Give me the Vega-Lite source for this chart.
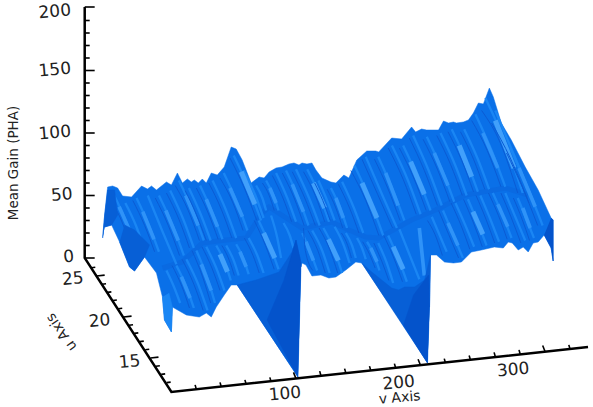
{"$schema":"https://vega.github.io/schema/vega-lite/v6.json","width":593,"height":407,"padding":0,"autosize":{"type":"fit","contains":"padding"},"background":"white","config":{"view":{"stroke":null}},
"encoding":{"x":{"field":"v","type":"quantitative","scale":{"domain":[-137.6,336.8],"nice":false,"zero":false},"axis":null},"y":{"field":"g","type":"quantitative","scale":{"domain":[-119.2,206.4],"nice":false,"zero":false},"axis":null}},
"datasets":{
"silhouette":[{"s":0,"v":-55.2,"g":16},{"s":0,"v":-53.6,"g":34.4},{"s":0,"v":-51.2,"g":56.8},{"s":0,"v":-47.2,"g":57.6},{"s":0,"v":-43.2,"g":56},{"s":0,"v":-39.2,"g":49.6},{"s":0,"v":-32,"g":48.8},{"s":0,"v":-24,"g":57.6},{"s":0,"v":-19.2,"g":55.2},{"s":0,"v":-16,"g":57.6},{"s":0,"v":-12,"g":54.4},{"s":0,"v":-4,"g":60.8},{"s":0,"v":0,"g":58.4},{"s":0,"v":4.8,"g":68},{"s":0,"v":8.8,"g":60},{"s":0,"v":12.8,"g":63.2},{"s":0,"v":16,"g":60.8},{"s":0,"v":18.4,"g":62.4},{"s":0,"v":21.6,"g":60},{"s":0,"v":24.8,"g":63.2},{"s":0,"v":28,"g":60},{"s":0,"v":32,"g":68},{"s":0,"v":36.8,"g":66.4},{"s":0,"v":42.4,"g":72.8},{"s":0,"v":48,"g":88.8},{"s":0,"v":52,"g":87.2},{"s":0,"v":56.8,"g":78.4},{"s":0,"v":64,"g":60},{"s":0,"v":70.4,"g":64.8},{"s":0,"v":74.4,"g":64},{"s":0,"v":78.4,"g":68.8},{"s":0,"v":84,"g":72},{"s":0,"v":88.8,"g":72.8},{"s":0,"v":94.4,"g":75.2},{"s":0,"v":98.4,"g":76},{"s":0,"v":102.4,"g":74.4},{"s":0,"v":104.8,"g":76},{"s":0,"v":108.8,"g":75.2},{"s":0,"v":112.8,"g":76},{"s":0,"v":116,"g":70.4},{"s":0,"v":120.8,"g":64},{"s":0,"v":128,"g":60.8},{"s":0,"v":132,"g":60},{"s":0,"v":138.4,"g":66.4},{"s":0,"v":142.4,"g":64},{"s":0,"v":148.8,"g":78.4},{"s":0,"v":156.8,"g":85.6},{"s":0,"v":164,"g":85.6},{"s":0,"v":166.4,"g":84.8},{"s":0,"v":176.8,"g":96},{"s":0,"v":184.8,"g":95.2},{"s":0,"v":192.8,"g":104.8},{"s":0,"v":196,"g":100.8},{"s":0,"v":200.8,"g":103.2},{"s":0,"v":204.8,"g":102.4},{"s":0,"v":214.4,"g":102.4},{"s":0,"v":218.4,"g":109.6},{"s":0,"v":222.4,"g":108},{"s":0,"v":226.4,"g":108.8},{"s":0,"v":228.8,"g":108},{"s":0,"v":234.4,"g":108.8},{"s":0,"v":238.4,"g":110.4},{"s":0,"v":242.4,"g":116},{"s":0,"v":246.4,"g":124},{"s":0,"v":250.4,"g":123.2},{"s":0,"v":255.2,"g":136},{"s":0,"v":258.4,"g":128.8},{"s":0,"v":264.8,"g":108},{"s":0,"v":272.8,"g":94.4},{"s":0,"v":284,"g":72.8},{"s":0,"v":294.4,"g":54.4},{"s":0,"v":304.8,"g":32},{"s":0,"v":306.4,"g":30.4},{"s":0,"v":306.4,"g":-2.4},{"s":0,"v":304.8,"g":8},{"s":0,"v":299.2,"g":18.4},{"s":0,"v":294.4,"g":12.8},{"s":0,"v":290.4,"g":12},{"s":0,"v":286.4,"g":4.8},{"s":0,"v":282.4,"g":8.8},{"s":0,"v":278.4,"g":6.4},{"s":0,"v":273.6,"g":12},{"s":0,"v":270.4,"g":12.8},{"s":0,"v":266.4,"g":8},{"s":0,"v":259.2,"g":8.8},{"s":0,"v":248.8,"g":6.4},{"s":0,"v":240.8,"g":4.8},{"s":0,"v":232.8,"g":-3.2},{"s":0,"v":226.4,"g":-4},{"s":0,"v":219.2,"g":-3.2},{"s":0,"v":212.8,"g":2.4},{"s":0,"v":208,"g":2.4},{"s":0,"v":207.2,"g":-39.2},{"s":0,"v":205.6,"g":-84},{"s":0,"v":182.4,"g":-48},{"s":0,"v":152.8,"g":-4},{"s":0,"v":148,"g":-3.2},{"s":0,"v":140,"g":-9.6},{"s":0,"v":132,"g":-15.2},{"s":0,"v":126.4,"g":-16},{"s":0,"v":120,"g":-13.6},{"s":0,"v":112.8,"g":-14.4},{"s":0,"v":108,"g":-5.6},{"s":0,"v":104.8,"g":-4},{"s":0,"v":104,"g":-7.2},{"s":0,"v":101.6,"g":-95.2},{"s":0,"v":52.8,"g":-21.6},{"s":0,"v":48,"g":-21.6},{"s":0,"v":42.4,"g":-29.6},{"s":0,"v":36,"g":-39.2},{"s":0,"v":32,"g":-47.2},{"s":0,"v":28,"g":-44},{"s":0,"v":22.4,"g":-47.2},{"s":0,"v":12,"g":-45.6},{"s":0,"v":0.8,"g":-39.2},{"s":0,"v":0,"g":-59.2},{"s":0,"v":-5.6,"g":-49.6},{"s":0,"v":-7.2,"g":-31.2},{"s":0,"v":-12,"g":-12},{"s":0,"v":-21.6,"g":0.8},{"s":0,"v":-29.6,"g":-10.4},{"s":0,"v":-33.6,"g":-7.2},{"s":0,"v":-41.6,"g":12.8},{"s":0,"v":-48,"g":26.4},{"s":0,"v":-53.6,"g":24.8}],
"patches":[
{"s":1,"t":"dark","v":101.6,"g":-95.2},{"s":1,"t":"dark","v":52.8,"g":-21.6},{"s":1,"t":"dark","v":68,"g":-17.6},{"s":1,"t":"dark","v":86.4,"g":-11.2},{"s":1,"t":"dark","v":96.8,"g":4.8},{"s":1,"t":"dark","v":100,"g":14.4},{"s":1,"t":"dark","v":104,"g":-4},{"s":1,"t":"dark","v":104,"g":-7.2},
{"s":2,"t":"deep","v":101.6,"g":-95.2},{"s":2,"t":"deep","v":76.8,"g":-49.6},{"s":2,"t":"deep","v":90.4,"g":-17.6},{"s":2,"t":"deep","v":100,"g":14.4},{"s":2,"t":"deep","v":104,"g":-4},{"s":2,"t":"deep","v":104,"g":-7.2},
{"s":3,"t":"dark","v":205.6,"g":-84},{"s":3,"t":"dark","v":152.8,"g":-4},{"s":3,"t":"dark","v":160.8,"g":-11.2},{"s":3,"t":"dark","v":176.8,"g":-24},{"s":3,"t":"dark","v":182.4,"g":-25.6},{"s":3,"t":"dark","v":187.2,"g":-23.2},{"s":3,"t":"dark","v":195.2,"g":-23.2},{"s":3,"t":"dark","v":203.2,"g":-17.6},{"s":3,"t":"dark","v":208,"g":2.4},{"s":3,"t":"dark","v":207.2,"g":-39.2},
{"s":4,"t":"deep","v":205.6,"g":-84},{"s":4,"t":"deep","v":186.4,"g":-53.6},{"s":4,"t":"deep","v":194.4,"g":-29.6},{"s":4,"t":"deep","v":206.4,"g":-13.6},{"s":4,"t":"deep","v":207.2,"g":-39.2},
{"s":5,"t":"deep","v":304.8,"g":32},{"s":5,"t":"deep","v":306.4,"g":30.4},{"s":5,"t":"deep","v":306.4,"g":-2.4},{"s":5,"t":"deep","v":304.8,"g":8},{"s":5,"t":"deep","v":299.2,"g":18.4},
{"s":6,"t":"dark","v":-41.6,"g":12.8},{"s":6,"t":"dark","v":-33.6,"g":-7.2},{"s":6,"t":"dark","v":-29.6,"g":-10.4},{"s":6,"t":"dark","v":-21.6,"g":0.8},{"s":6,"t":"dark","v":-17.6,"g":10.4},{"s":6,"t":"dark","v":-29.6,"g":22.4},{"s":6,"t":"dark","v":-37.6,"g":26.4},
{"s":7,"t":"dark","v":-55.2,"g":16},{"s":7,"t":"dark","v":-53.6,"g":34.4},{"s":7,"t":"dark","v":-51.2,"g":54.4},{"s":7,"t":"dark","v":-45.6,"g":54.4},{"s":7,"t":"dark","v":-43.2,"g":34.4},{"s":7,"t":"dark","v":-48,"g":26.4},{"s":7,"t":"dark","v":-53.6,"g":24.8},
{"s":8,"t":"l1","v":-7.2,"g":-31.2},{"s":8,"t":"l1","v":-5.6,"g":-49.6},{"s":8,"t":"l1","v":0,"g":-59.2},{"s":8,"t":"l1","v":0.8,"g":-39.2},{"s":8,"t":"l1","v":-2,"g":-28}],
"fold":[{"v":-7.2,"g":-8},{"v":8.8,"g":-3.2},{"v":24.8,"g":12},{"v":44,"g":14.4},{"v":60,"g":16},{"v":72.8,"g":36},{"v":78.4,"g":40.8},{"v":104.8,"g":24},{"v":128.8,"g":28.8},{"v":142.4,"g":22.4},{"v":156,"g":16.8},{"v":166.4,"g":16},{"v":192.8,"g":30.4},{"v":212,"g":38.4},{"v":236,"g":50.4},{"v":268,"g":56},{"v":286.4,"g":50.4}],
"streaks":[
{"s":1,"t":"l1","v":-46,"g":50},{"s":1,"t":"l1","v":-37.5,"g":32},{"s":1,"t":"l1","v":-31,"g":15},{"s":2,"t":"l1","v":-37,"g":44},{"s":2,"t":"l1","v":-28.5,"g":26},{"s":2,"t":"l1","v":-22,"g":8},{"s":3,"t":"l1","v":-28,"g":48},{"s":3,"t":"l1","v":-18,"g":26},{"s":3,"t":"l1","v":-10,"g":5},{"s":4,"t":"l1","v":-19,"g":50},{"s":4,"t":"l1","v":-7.5,"g":22},{"s":4,"t":"l1","v":4,"g":-5},{"s":5,"t":"l1","v":-10,"g":50},{"s":5,"t":"l1","v":1,"g":26},{"s":5,"t":"l1","v":10,"g":2},{"s":6,"t":"l1","v":-1,"g":54},{"s":6,"t":"l1","v":9.5,"g":31},{"s":6,"t":"l1","v":18,"g":8},{"s":7,"t":"l1","v":6,"g":62},{"s":7,"t":"l1","v":17,"g":38},{"s":7,"t":"l1","v":26,"g":14},{"s":8,"t":"l1","v":14,"g":56},{"s":8,"t":"l1","v":23.5,"g":35},{"s":8,"t":"l1","v":31.5,"g":14},{"s":9,"t":"l1","v":23,"g":58},{"s":9,"t":"l1","v":33,"g":36},{"s":9,"t":"l1","v":41,"g":15},{"s":10,"t":"l1","v":33,"g":62},{"s":10,"t":"l1","v":43.5,"g":39},{"s":10,"t":"l1","v":52,"g":16},{"s":11,"t":"l1","v":42,"g":68},{"s":11,"t":"l1","v":52.5,"g":45},{"s":11,"t":"l1","v":61,"g":22},{"s":12,"t":"l1","v":50,"g":82},{"s":12,"t":"l1","v":62,"g":56},{"s":12,"t":"l1","v":72,"g":30},{"s":13,"t":"l1","v":58,"g":70},{"s":13,"t":"l1","v":67,"g":51},{"s":13,"t":"l1","v":74,"g":32},{"s":14,"t":"l1","v":68,"g":58},{"s":14,"t":"l1","v":73,"g":48},{"s":14,"t":"l1","v":76,"g":38},{"s":15,"t":"l1","v":76,"g":62},{"s":15,"t":"l1","v":82,"g":50},{"s":15,"t":"l1","v":86,"g":38},{"s":16,"t":"l1","v":84,"g":68},{"s":16,"t":"l1","v":93,"g":48},{"s":16,"t":"l1","v":100,"g":29},{"s":17,"t":"l1","v":92,"g":70},{"s":17,"t":"l1","v":102,"g":48},{"s":17,"t":"l1","v":110,"g":26},{"s":18,"t":"l1","v":100,"g":71},{"s":18,"t":"l1","v":110.5,"g":48},{"s":18,"t":"l1","v":119,"g":26},{"s":19,"t":"l1","v":109,"g":71},{"s":19,"t":"l1","v":119,"g":50},{"s":19,"t":"l1","v":126.5,"g":29},{"s":20,"t":"l1","v":118,"g":62},{"s":20,"t":"l1","v":125,"g":46},{"s":20,"t":"l1","v":131,"g":30},{"s":21,"t":"l1","v":128,"g":56},{"s":21,"t":"l1","v":135.5,"g":40},{"s":21,"t":"l1","v":141,"g":24},{"s":22,"t":"l1","v":137,"g":61},{"s":22,"t":"l1","v":146.5,"g":40},{"s":22,"t":"l1","v":154,"g":20},{"s":23,"t":"l1","v":147,"g":74},{"s":23,"t":"l1","v":159.5,"g":46},{"s":23,"t":"l1","v":170,"g":18},{"s":24,"t":"l1","v":156,"g":81},{"s":24,"t":"l1","v":169,"g":51},{"s":24,"t":"l1","v":181,"g":24},{"s":25,"t":"l1","v":166,"g":81},{"s":25,"t":"l1","v":177.5,"g":55},{"s":25,"t":"l1","v":187,"g":30},{"s":26,"t":"l1","v":177,"g":90},{"s":26,"t":"l1","v":189.5,"g":63},{"s":26,"t":"l1","v":200,"g":35},{"s":27,"t":"l1","v":186,"g":90},{"s":27,"t":"l1","v":198,"g":64},{"s":27,"t":"l1","v":208,"g":38},{"s":28,"t":"l1","v":194,"g":98},{"s":28,"t":"l1","v":206.5,"g":70},{"s":28,"t":"l1","v":217,"g":42},{"s":29,"t":"l1","v":205,"g":97},{"s":29,"t":"l1","v":217,"g":71},{"s":29,"t":"l1","v":227,"g":45},{"s":30,"t":"l1","v":216,"g":100},{"s":30,"t":"l1","v":227.5,"g":75},{"s":30,"t":"l1","v":237,"g":50},{"s":31,"t":"l1","v":225,"g":103},{"s":31,"t":"l1","v":236.5,"g":78},{"s":31,"t":"l1","v":246,"g":53},{"s":32,"t":"l1","v":235,"g":103},{"s":32,"t":"l1","v":246,"g":79},{"s":32,"t":"l1","v":255,"g":55},{"s":33,"t":"l1","v":244,"g":115},{"s":33,"t":"l1","v":257,"g":86},{"s":33,"t":"l1","v":268,"g":57},{"s":34,"t":"l1","v":252,"g":128},{"s":34,"t":"l1","v":268,"g":92},{"s":34,"t":"l1","v":282,"g":52},{"s":35,"t":"l1","v":260,"g":118},{"s":35,"t":"l1","v":276,"g":80},{"s":35,"t":"l1","v":291,"g":44},{"s":36,"t":"l1","v":272,"g":88},{"s":36,"t":"l1","v":286,"g":56},{"s":36,"t":"l1","v":298,"g":26},
{"s":41,"t":"l1","v":-4,"g":-10},{"s":41,"t":"l1","v":2,"g":-23},{"s":41,"t":"l1","v":7,"g":-36},{"s":42,"t":"l1","v":4,"g":-6},{"s":42,"t":"l1","v":12,"g":-23},{"s":42,"t":"l1","v":18,"g":-40},{"s":43,"t":"l1","v":12,"g":-1},{"s":43,"t":"l1","v":21.5,"g":-21},{"s":43,"t":"l1","v":29,"g":-42},{"s":44,"t":"l1","v":20,"g":6},{"s":44,"t":"l1","v":28.5,"g":-15},{"s":44,"t":"l1","v":35,"g":-36},{"s":45,"t":"l1","v":28,"g":9},{"s":45,"t":"l1","v":36,"g":-8},{"s":45,"t":"l1","v":42.6,"g":-26},{"s":46,"t":"l1","v":36,"g":10},{"s":46,"t":"l1","v":43,"g":-4},{"s":46,"t":"l1","v":47.7,"g":-18},{"s":47,"t":"l1","v":44,"g":10},{"s":47,"t":"l1","v":50,"g":-2},{"s":47,"t":"l1","v":54,"g":-14},{"s":48,"t":"l1","v":52,"g":11},{"s":48,"t":"l1","v":58,"g":-1},{"s":48,"t":"l1","v":62,"g":-13},{"s":49,"t":"l1","v":62,"g":16},{"s":49,"t":"l1","v":69,"g":2},{"s":49,"t":"l1","v":74,"g":-12},{"s":50,"t":"l1","v":70,"g":30},{"s":50,"t":"l1","v":79,"g":10},{"s":50,"t":"l1","v":86,"g":-9},{"s":51,"t":"l1","v":80,"g":34},{"s":51,"t":"l1","v":85,"g":16},{"s":51,"t":"l1","v":88,"g":0},{"s":52,"t":"l1","v":90,"g":28},{"s":52,"t":"l1","v":95,"g":18},{"s":52,"t":"l1","v":98,"g":8},{"s":53,"t":"l1","v":105,"g":20},{"s":53,"t":"l1","v":111,"g":6},{"s":53,"t":"l1","v":117,"g":-10},{"s":54,"t":"l1","v":113,"g":22},{"s":54,"t":"l1","v":121,"g":6},{"s":54,"t":"l1","v":127,"g":-12},{"s":55,"t":"l1","v":122,"g":24},{"s":55,"t":"l1","v":130.5,"g":7},{"s":55,"t":"l1","v":137,"g":-12},{"s":56,"t":"l1","v":131,"g":25},{"s":56,"t":"l1","v":138,"g":11},{"s":56,"t":"l1","v":143,"g":-4},{"s":57,"t":"l1","v":140,"g":20},{"s":57,"t":"l1","v":145,"g":10},{"s":57,"t":"l1","v":148,"g":0},{"s":58,"t":"l1","v":149,"g":16},{"s":58,"t":"l1","v":153,"g":8},{"s":58,"t":"l1","v":156,"g":-1},{"s":59,"t":"l1","v":157,"g":13},{"s":59,"t":"l1","v":162.5,"g":3},{"s":59,"t":"l1","v":167,"g":-10},{"s":60,"t":"l1","v":166,"g":12},{"s":60,"t":"l1","v":172.5,"g":-3},{"s":60,"t":"l1","v":178,"g":-20},{"s":61,"t":"l1","v":174,"g":18},{"s":61,"t":"l1","v":182,"g":0},{"s":61,"t":"l1","v":189,"g":-19},{"s":62,"t":"l1","v":183,"g":23},{"s":62,"t":"l1","v":191,"g":3},{"s":62,"t":"l1","v":199,"g":-17},{"s":63,"t":"l1","v":209,"g":33},{"s":63,"t":"l1","v":215,"g":19},{"s":63,"t":"l1","v":221,"g":5},{"s":64,"t":"l1","v":218,"g":38},{"s":64,"t":"l1","v":226,"g":19},{"s":64,"t":"l1","v":234,"g":0},{"s":65,"t":"l1","v":228,"g":44},{"s":65,"t":"l1","v":236,"g":26},{"s":65,"t":"l1","v":243,"g":9},{"s":66,"t":"l1","v":238,"g":47},{"s":66,"t":"l1","v":246,"g":28},{"s":66,"t":"l1","v":253,"g":10},{"s":67,"t":"l1","v":248,"g":50},{"s":67,"t":"l1","v":256,"g":31},{"s":67,"t":"l1","v":263,"g":13},{"s":68,"t":"l1","v":258,"g":52},{"s":68,"t":"l1","v":266,"g":34},{"s":68,"t":"l1","v":273,"g":16},{"s":69,"t":"l1","v":268,"g":52},{"s":69,"t":"l1","v":276,"g":33},{"s":69,"t":"l1","v":284,"g":14},{"s":70,"t":"l1","v":278,"g":48},{"s":70,"t":"l1","v":285,"g":31},{"s":70,"t":"l1","v":291,"g":16},
{"s":101,"t":"l2","v":-42,"g":41},{"s":101,"t":"l2","v":-34,"g":23},{"s":103,"t":"l2","v":-23,"g":37},{"s":103,"t":"l2","v":-14,"g":15},{"s":105,"t":"l2","v":-4.5,"g":38},{"s":105,"t":"l2","v":5.5,"g":14},{"s":107,"t":"l2","v":11.5,"g":50},{"s":107,"t":"l2","v":21.5,"g":26},{"s":109,"t":"l2","v":28,"g":47},{"s":109,"t":"l2","v":37,"g":25},{"s":111,"t":"l2","v":47,"g":56},{"s":111,"t":"l2","v":57,"g":33},{"s":112,"t":"l3","v":56,"g":69},{"s":112,"t":"l3","v":67,"g":43},{"s":115,"t":"l2","v":79,"g":56},{"s":115,"t":"l2","v":84,"g":44},{"s":117,"t":"l2","v":97,"g":59},{"s":117,"t":"l2","v":106,"g":37},{"s":119,"t":"l3","v":114,"g":60},{"s":119,"t":"l3","v":123,"g":40},{"s":121,"t":"l2","v":132,"g":48},{"s":121,"t":"l2","v":138,"g":32},{"s":123,"t":"l3","v":153,"g":60},{"s":123,"t":"l3","v":165,"g":32},{"s":125,"t":"l2","v":172,"g":68},{"s":125,"t":"l2","v":182,"g":42},{"s":127,"t":"l3","v":192,"g":77},{"s":127,"t":"l3","v":203,"g":51},{"s":129,"t":"l2","v":211,"g":84},{"s":129,"t":"l2","v":222,"g":58},{"s":131,"t":"l3","v":231,"g":90},{"s":131,"t":"l3","v":241,"g":65},{"s":133,"t":"l2","v":250,"g":100},{"s":133,"t":"l2","v":262,"g":72},{"s":134,"t":"l3","v":260,"g":110},{"s":134,"t":"l3","v":275,"g":72},{"s":136,"t":"l2","v":279,"g":72},{"s":136,"t":"l2","v":292,"g":41},
{"s":142,"t":"l2","v":8,"g":-15},{"s":142,"t":"l2","v":15,"g":-32},{"s":144,"t":"l2","v":24,"g":-5},{"s":144,"t":"l2","v":32,"g":-26},{"s":146,"t":"l3","v":39,"g":3},{"s":146,"t":"l3","v":45,"g":-11},{"s":148,"t":"l2","v":55,"g":5},{"s":148,"t":"l2","v":60,"g":-7},{"s":150,"t":"l3","v":74,"g":20},{"s":150,"t":"l3","v":83,"g":0},{"s":153,"t":"l2","v":108,"g":13},{"s":153,"t":"l2","v":114,"g":-2},{"s":155,"t":"l3","v":126,"g":15},{"s":155,"t":"l3","v":134,"g":-2},{"s":159,"t":"l2","v":160,"g":8},{"s":159,"t":"l2","v":165,"g":-3},{"s":161,"t":"l3","v":178,"g":9},{"s":161,"t":"l3","v":186,"g":-9},{"s":162,"t":"l2","v":199,"g":24},{"s":162,"t":"l2","v":201,"g":5},{"s":162,"t":"l2","v":203,"g":-14},{"s":164,"t":"l2","v":222,"g":28},{"s":164,"t":"l2","v":230,"g":10},{"s":166,"t":"l3","v":242,"g":37},{"s":166,"t":"l3","v":250,"g":19},{"s":168,"t":"l2","v":262,"g":43},{"s":168,"t":"l2","v":270,"g":25},{"s":170,"t":"l2","v":282,"g":40},{"s":170,"t":"l2","v":288,"g":24},
{"s":201,"t":"hair","v":-49,"g":46},{"s":201,"t":"hair","v":-41,"g":32},{"s":201,"t":"hair","v":-34.5,"g":15},{"s":203,"t":"hair","v":-31,"g":46},{"s":203,"t":"hair","v":-21.5,"g":26},{"s":203,"t":"hair","v":-13.5,"g":5},{"s":205,"t":"hair","v":-13,"g":48},{"s":205,"t":"hair","v":-2.5,"g":26},{"s":205,"t":"hair","v":6.5,"g":2},{"s":206,"t":"hair","v":-4,"g":52},{"s":206,"t":"hair","v":6,"g":31},{"s":206,"t":"hair","v":14.5,"g":8},{"s":207,"t":"hair","v":3,"g":58},{"s":207,"t":"hair","v":13.5,"g":38},{"s":207,"t":"hair","v":22.5,"g":14},{"s":208,"t":"hair","v":11,"g":54},{"s":208,"t":"hair","v":20,"g":35},{"s":208,"t":"hair","v":28,"g":14},{"s":209,"t":"hair","v":20,"g":56},{"s":209,"t":"hair","v":29.5,"g":36},{"s":209,"t":"hair","v":37.5,"g":15},{"s":210,"t":"hair","v":30,"g":60},{"s":210,"t":"hair","v":40,"g":39},{"s":210,"t":"hair","v":48.5,"g":16},{"s":211,"t":"hair","v":39,"g":64},{"s":211,"t":"hair","v":49,"g":45},{"s":211,"t":"hair","v":57.5,"g":22},{"s":212,"t":"hair","v":47,"g":80},{"s":212,"t":"hair","v":58.5,"g":56},{"s":212,"t":"hair","v":68.5,"g":30},{"s":215,"t":"hair","v":73,"g":60},{"s":215,"t":"hair","v":78.5,"g":50},{"s":215,"t":"hair","v":82.5,"g":38},{"s":216,"t":"hair","v":81,"g":66},{"s":216,"t":"hair","v":89.5,"g":48},{"s":216,"t":"hair","v":96.5,"g":29},{"s":217,"t":"hair","v":89,"g":68},{"s":217,"t":"hair","v":98.5,"g":48},{"s":217,"t":"hair","v":106.5,"g":26},{"s":218,"t":"hair","v":97,"g":69},{"s":218,"t":"hair","v":107,"g":48},{"s":218,"t":"hair","v":115.5,"g":26},{"s":219,"t":"hair","v":106,"g":69},{"s":219,"t":"hair","v":115.5,"g":50},{"s":219,"t":"hair","v":123,"g":29},{"s":220,"t":"hair","v":115,"g":60},{"s":220,"t":"hair","v":121.5,"g":46},{"s":220,"t":"hair","v":127.5,"g":30},{"s":221,"t":"hair","v":125,"g":55},{"s":221,"t":"hair","v":132,"g":40},{"s":221,"t":"hair","v":137.5,"g":24},{"s":222,"t":"hair","v":134,"g":59},{"s":222,"t":"hair","v":143,"g":40},{"s":222,"t":"hair","v":150.5,"g":20},{"s":223,"t":"hair","v":144,"g":70},{"s":223,"t":"hair","v":156,"g":46},{"s":223,"t":"hair","v":166.5,"g":18},{"s":224,"t":"hair","v":153,"g":79},{"s":224,"t":"hair","v":165.5,"g":51},{"s":224,"t":"hair","v":177.5,"g":24},{"s":225,"t":"hair","v":163,"g":79},{"s":225,"t":"hair","v":174,"g":55},{"s":225,"t":"hair","v":183.5,"g":30},{"s":226,"t":"hair","v":174,"g":88},{"s":226,"t":"hair","v":186,"g":63},{"s":226,"t":"hair","v":196.5,"g":35},{"s":227,"t":"hair","v":183,"g":88},{"s":227,"t":"hair","v":194.5,"g":64},{"s":227,"t":"hair","v":204.5,"g":38},{"s":228,"t":"hair","v":191,"g":96},{"s":228,"t":"hair","v":203,"g":70},{"s":228,"t":"hair","v":213.5,"g":42},{"s":229,"t":"hair","v":202,"g":95},{"s":229,"t":"hair","v":213.5,"g":71},{"s":229,"t":"hair","v":223.5,"g":45},{"s":230,"t":"hair","v":213,"g":98},{"s":230,"t":"hair","v":224,"g":75},{"s":230,"t":"hair","v":233.5,"g":50},{"s":231,"t":"hair","v":222,"g":101},{"s":231,"t":"hair","v":233,"g":78},{"s":231,"t":"hair","v":242.5,"g":53},{"s":232,"t":"hair","v":232,"g":101},{"s":232,"t":"hair","v":242.5,"g":79},{"s":232,"t":"hair","v":251.5,"g":55},{"s":233,"t":"hair","v":241,"g":110},{"s":233,"t":"hair","v":253.5,"g":86},{"s":233,"t":"hair","v":264.5,"g":57},{"s":234,"t":"hair","v":249,"g":118},{"s":234,"t":"hair","v":264,"g":92},{"s":234,"t":"hair","v":278,"g":52},{"s":235,"t":"hair","v":257,"g":108},{"s":235,"t":"hair","v":272,"g":80},{"s":235,"t":"hair","v":287,"g":44},{"s":236,"t":"hair","v":269,"g":84},{"s":236,"t":"hair","v":282,"g":56},{"s":236,"t":"hair","v":294,"g":26},
{"s":242,"t":"hair","v":0.5,"g":-6},{"s":242,"t":"hair","v":8.5,"g":-23},{"s":242,"t":"hair","v":14.5,"g":-40},{"s":243,"t":"hair","v":8.5,"g":-1},{"s":243,"t":"hair","v":18,"g":-21},{"s":243,"t":"hair","v":25.5,"g":-42},{"s":244,"t":"hair","v":16.5,"g":6},{"s":244,"t":"hair","v":25,"g":-15},{"s":244,"t":"hair","v":31.5,"g":-36},{"s":245,"t":"hair","v":24.5,"g":9},{"s":245,"t":"hair","v":32.5,"g":-8},{"s":245,"t":"hair","v":39,"g":-26},{"s":247,"t":"hair","v":40.5,"g":10},{"s":247,"t":"hair","v":46.5,"g":-2},{"s":247,"t":"hair","v":50.5,"g":-14},{"s":249,"t":"hair","v":58.5,"g":16},{"s":249,"t":"hair","v":65.5,"g":2},{"s":249,"t":"hair","v":70.5,"g":-12},{"s":250,"t":"hair","v":66.5,"g":30},{"s":250,"t":"hair","v":75.5,"g":10},{"s":250,"t":"hair","v":82.5,"g":-9},{"s":253,"t":"hair","v":106,"g":24},{"s":253,"t":"hair","v":107.5,"g":6},{"s":253,"t":"hair","v":113.5,"g":-10},{"s":254,"t":"hair","v":109.5,"g":22},{"s":254,"t":"hair","v":117.5,"g":6},{"s":254,"t":"hair","v":123.5,"g":-12},{"s":255,"t":"hair","v":118.5,"g":24},{"s":255,"t":"hair","v":127,"g":7},{"s":255,"t":"hair","v":133.5,"g":-12},{"s":257,"t":"hair","v":136.5,"g":20},{"s":257,"t":"hair","v":141.5,"g":10},{"s":257,"t":"hair","v":144.5,"g":0},{"s":259,"t":"hair","v":153.5,"g":13},{"s":259,"t":"hair","v":159,"g":3},{"s":259,"t":"hair","v":163.5,"g":-8},{"s":260,"t":"hair","v":162.5,"g":12},{"s":260,"t":"hair","v":169,"g":-3},{"s":260,"t":"hair","v":174.5,"g":-18},{"s":261,"t":"hair","v":170.5,"g":18},{"s":261,"t":"hair","v":178.5,"g":0},{"s":261,"t":"hair","v":185.5,"g":-19},{"s":263,"t":"hair","v":205.5,"g":30},{"s":263,"t":"hair","v":211.5,"g":19},{"s":263,"t":"hair","v":217.5,"g":2},{"s":264,"t":"hair","v":214.5,"g":38},{"s":264,"t":"hair","v":222.5,"g":19},{"s":264,"t":"hair","v":230.5,"g":0},{"s":265,"t":"hair","v":224.5,"g":44},{"s":265,"t":"hair","v":232.5,"g":26},{"s":265,"t":"hair","v":239.5,"g":7},{"s":266,"t":"hair","v":234.5,"g":47},{"s":266,"t":"hair","v":242.5,"g":28},{"s":266,"t":"hair","v":249.5,"g":9},{"s":267,"t":"hair","v":244.5,"g":50},{"s":267,"t":"hair","v":252.5,"g":31},{"s":267,"t":"hair","v":259.5,"g":12},{"s":268,"t":"hair","v":254.5,"g":52},{"s":268,"t":"hair","v":262.5,"g":34},{"s":268,"t":"hair","v":269.5,"g":15},{"s":269,"t":"hair","v":264.5,"g":52},{"s":269,"t":"hair","v":272.5,"g":33},{"s":269,"t":"hair","v":280.5,"g":12},{"s":270,"t":"hair","v":274.5,"g":48},{"s":270,"t":"hair","v":281.5,"g":31},{"s":270,"t":"hair","v":287.5,"g":14}],
"axisline":[{"v":-69.6,"g":200.8},{"v":-69.6,"g":0},{"v":0,"g":-107.2},{"v":334.4,"g":-71.2}],
"ticks":[
{"s":0,"v":-69.6,"g":0},{"s":0,"v":-61.6,"g":0},{"s":1,"v":-69.6,"g":10},{"s":1,"v":-65.6,"g":10},{"s":2,"v":-69.6,"g":20},{"s":2,"v":-65.6,"g":20},{"s":3,"v":-69.6,"g":30},{"s":3,"v":-65.6,"g":30},{"s":4,"v":-69.6,"g":40},{"s":4,"v":-65.6,"g":40},{"s":5,"v":-69.6,"g":50},{"s":5,"v":-61.6,"g":50},{"s":6,"v":-69.6,"g":60},{"s":6,"v":-65.6,"g":60},{"s":7,"v":-69.6,"g":70},{"s":7,"v":-65.6,"g":70},{"s":8,"v":-69.6,"g":80},{"s":8,"v":-65.6,"g":80},{"s":9,"v":-69.6,"g":90},{"s":9,"v":-65.6,"g":90},{"s":10,"v":-69.6,"g":100},{"s":10,"v":-61.6,"g":100},{"s":11,"v":-69.6,"g":110},{"s":11,"v":-65.6,"g":110},{"s":12,"v":-69.6,"g":120},{"s":12,"v":-65.6,"g":120},{"s":13,"v":-69.6,"g":130},{"s":13,"v":-65.6,"g":130},{"s":14,"v":-69.6,"g":140},{"s":14,"v":-65.6,"g":140},{"s":15,"v":-69.6,"g":150},{"s":15,"v":-61.6,"g":150},{"s":16,"v":-69.6,"g":160},{"s":16,"v":-65.6,"g":160},{"s":17,"v":-69.6,"g":170},{"s":17,"v":-65.6,"g":170},{"s":18,"v":-69.6,"g":180},{"s":18,"v":-65.6,"g":180},{"s":19,"v":-69.6,"g":190},{"s":19,"v":-65.6,"g":190},{"s":20,"v":-69.6,"g":200.8},{"s":20,"v":-61.6,"g":200.8},
{"s":30,"v":-64.3,"g":-7.8},{"s":30,"v":-61.1,"g":-7.4},{"s":31,"v":-60,"g":-14.4},{"s":31,"v":-53.6,"g":-13.7},{"s":32,"v":-55.7,"g":-21},{"s":32,"v":-52.5,"g":-20.6},{"s":33,"v":-51.4,"g":-27.5},{"s":33,"v":-48.2,"g":-27.1},{"s":34,"v":-47,"g":-34},{"s":34,"v":-43.8,"g":-33.6},{"s":35,"v":-42.7,"g":-40.6},{"s":35,"v":-39.5,"g":-40.2},{"s":36,"v":-38.4,"g":-47.2},{"s":36,"v":-32,"g":-46.5},{"s":37,"v":-34,"g":-53.8},{"s":37,"v":-30.8,"g":-53.4},{"s":38,"v":-29.8,"g":-60.3},{"s":38,"v":-26.6,"g":-59.9},{"s":39,"v":-25.4,"g":-66.9},{"s":39,"v":-22.2,"g":-66.5},{"s":40,"v":-21,"g":-73.4},{"s":40,"v":-17.8,"g":-73},{"s":41,"v":-16.8,"g":-80},{"s":41,"v":-10.4,"g":-79.3},{"s":42,"v":-12.5,"g":-86.6},{"s":42,"v":-9.3,"g":-86.2},{"s":43,"v":-8.2,"g":-93.1},{"s":43,"v":-5,"g":-92.7},{"s":44,"v":-3.8,"g":-99.7},{"s":44,"v":-0.6,"g":-99.3},
{"s":50,"v":20,"g":-105},{"s":50,"v":19,"g":-101.5},{"s":51,"v":40,"g":-103},{"s":51,"v":39,"g":-99.5},{"s":52,"v":60,"g":-101},{"s":52,"v":59,"g":-97.5},{"s":53,"v":80,"g":-99},{"s":53,"v":79,"g":-95.5},{"s":54,"v":100,"g":-96.5},{"s":54,"v":98,"g":-91.5},{"s":55,"v":120,"g":-94},{"s":55,"v":119,"g":-90.5},{"s":56,"v":140,"g":-92},{"s":56,"v":139,"g":-88.5},{"s":57,"v":160,"g":-90},{"s":57,"v":159,"g":-86.5},{"s":58,"v":180,"g":-88},{"s":58,"v":179,"g":-84.5},{"s":59,"v":200,"g":-86},{"s":59,"v":198,"g":-81},{"s":60,"v":220,"g":-84},{"s":60,"v":219,"g":-80.5},{"s":61,"v":240,"g":-81.5},{"s":61,"v":239,"g":-78},{"s":62,"v":260,"g":-79},{"s":62,"v":259,"g":-75.5},{"s":63,"v":280,"g":-77},{"s":63,"v":279,"g":-73.5},{"s":64,"v":300,"g":-75},{"s":64,"v":298,"g":-70},{"s":65,"v":320,"g":-73},{"s":65,"v":319,"g":-69.5}]
},
"layer":[
{"data":{"name":"silhouette"},"transform":[{"window":[{"op":"row_number","as":"o"}]}],"mark":{"type":"line","fill":"#0a70e8","stroke":"#0a70e8","strokeWidth":0.5},"encoding":{"order":{"field":"o"},"detail":{"field":"s"}}},
{"data":{"name":"fold"},"transform":[{"window":[{"op":"row_number","as":"o"}]}],"mark":{"type":"line","stroke":"#0a6ae2","strokeWidth":5},"encoding":{"order":{"field":"o"}}},
{"data":{"name":"streaks"},"transform":[{"window":[{"op":"row_number","as":"o"}]}],"mark":{"type":"line","strokeCap":"butt","interpolate":"monotone"},"encoding":{"order":{"field":"o"},"detail":{"field":"s"},"color":{"field":"t","type":"nominal","legend":null,"scale":{"domain":["hair","l1","l2","l3"],"range":["#0a5bd4","#1a86f4","#2f93f8","#41a0fb"]}},"strokeWidth":{"field":"t","type":"ordinal","legend":null,"scale":{"domain":["hair","l1","l2","l3"],"range":[1,5,3.5,3.5]}}}},
{"data":{"name":"patches"},"transform":[{"window":[{"op":"row_number","as":"o"}]}],"mark":{"type":"line","strokeWidth":0.5},"encoding":{"order":{"field":"o"},"detail":{"field":"s"},"fill":{"field":"t","type":"nominal","legend":null,"scale":{"domain":["dark","deep","l1"],"range":["#075fd6","#0453cb","#1a86f4"]}},"stroke":{"field":"t","type":"nominal","legend":null,"scale":{"domain":["dark","deep","l1"],"range":["#075fd6","#0453cb","#1a86f4"]}}}},
{"data":{"name":"axisline"},"transform":[{"window":[{"op":"row_number","as":"o"}]}],"mark":{"type":"line","stroke":"black","strokeWidth":2.5},"encoding":{"order":{"field":"o"}}},
{"data":{"name":"ticks"},"transform":[{"window":[{"op":"row_number","as":"o"}]}],"mark":{"type":"line","stroke":"black","strokeWidth":1.6},"encoding":{"order":{"field":"o"},"detail":{"field":"s"}}},
{"data":{"values":[{"v":-93.6,"g":197,"l":"200"},{"v":-93.6,"g":150.4,"l":"150"},{"v":-93.6,"g":100,"l":"100"},{"v":-88,"g":50.4,"l":"50"},{"v":-82.4,"g":0.8,"l":"0"},{"v":-79.2,"g":-16.8,"l":"25"},{"v":-57.6,"g":-50.4,"l":"20"},{"v":-33.6,"g":-83.2,"l":"15"},{"v":91.2,"g":-108.8,"l":"100"},{"v":182.4,"g":-100,"l":"200"},{"v":274.4,"g":-89.6,"l":"300"}]},"mark":{"type":"text","font":"DejaVu Sans","fontSize":17,"angle":355,"align":"center","baseline":"middle","color":"#222"},"encoding":{"text":{"field":"l"}}},
{"data":{"values":[{"v":183.2,"g":-112,"l":"v Axis"}]},"mark":{"type":"text","font":"DejaVu Sans","fontSize":14,"angle":355,"align":"center","baseline":"middle","color":"#222"},"encoding":{"text":{"field":"l"}}},
{"data":{"values":[{"v":-126.4,"g":76,"l":"Mean Gain (PHA)"}]},"mark":{"type":"text","font":"DejaVu Sans","fontSize":13.5,"angle":270,"align":"center","baseline":"middle","color":"#222"},"encoding":{"text":{"field":"l"}}},
{"data":{"values":[{"v":-88,"g":-59.2,"l":"u Axis"}]},"mark":{"type":"text","font":"DejaVu Sans","fontSize":14,"angle":235,"align":"center","baseline":"middle","color":"#222"},"encoding":{"text":{"field":"l"}}}
]}
